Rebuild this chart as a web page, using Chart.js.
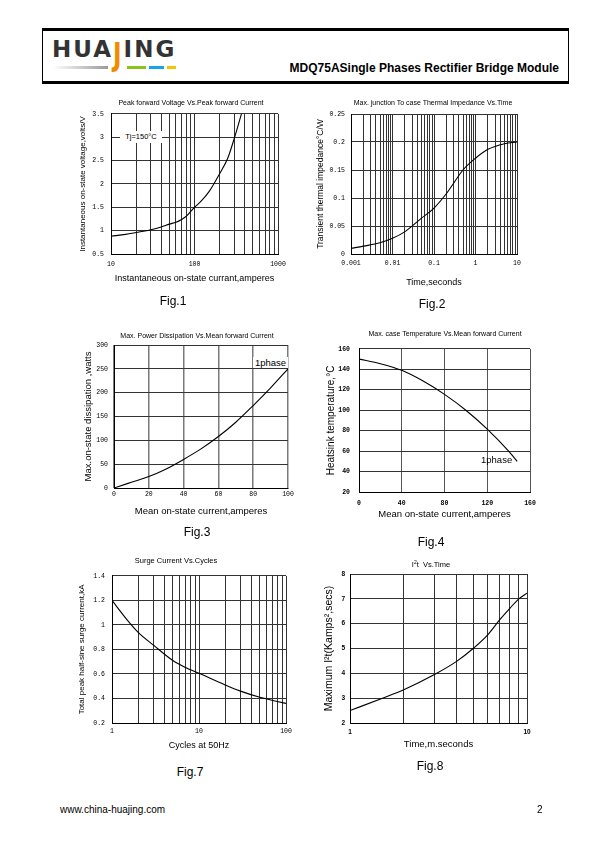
<!DOCTYPE html>
<html>
<head>
<meta charset="utf-8">
<script src="https://cdn.jsdelivr.net/npm/chart.js@4.4.0/dist/chart.umd.min.js"></script>
<style>
  html, body { margin: 0; padding: 0; background: #fff; }
  body { width: 595px; height: 842px; position: relative; overflow: hidden;
         font-family: "Liberation Sans", Arial, sans-serif; color: #000; }
  canvas { position: absolute; }
  .t { position: absolute; white-space: nowrap; transform: translate(-50%, -50%); line-height: 1; }
  .ttl { font-size: 7px; }
  .fig { font-size: 12px; }
  #hdr { position: absolute; left: 42px; top: 28px; width: 527px; height: 56px; box-sizing: border-box;
         border-top: 3px solid #000; border-bottom: 3px solid #000; border-left: 1px solid #000; border-right: 1px solid #000; }
  #logo { position: absolute; left: 52px; top: 38px; font-family: "DejaVu Sans", sans-serif; font-weight: bold;
          font-size: 23px; line-height: 23px; color: #333; letter-spacing: 2px; }
  #logo .j { color: #f08c00; display: inline-block; transform: scaleY(1.4); transform-origin: top; }
  .bar { position: absolute; top: 66px; height: 3px; }
  #model { position: absolute; right: 36px; top: 61px; font-size: 12px; font-weight: bold; line-height: 14px; }
  .note { position: absolute; background: #fff; white-space: nowrap; line-height: 1; }
</style>
</head>
<body>
<div id="hdr"></div>
<div id="logo">HUA<span class="j">J</span>ING</div>
<div class="bar" style="left:53px;width:55px;background:linear-gradient(to right,#fff,#9a9a9a);"></div>
<div class="bar" style="left:127px;width:19px;background:#8cc21f;"></div>
<div class="bar" style="left:149px;width:15px;background:#1aa3e8;"></div>
<div class="bar" style="left:167px;width:9px;background:#f7c400;"></div>
<div id="model">MDQ75ASingle Phases Rectifier Bridge Module</div>

<canvas id="c1"></canvas>
<canvas id="c2"></canvas>
<canvas id="c3"></canvas>
<canvas id="c4"></canvas>
<canvas id="c7"></canvas>
<canvas id="c8"></canvas>

<div class="t ttl" style="left:191px;top:102px;">Peak forward Voltage Vs.Peak forward Current</div>
<div class="t ttl" style="left:433px;top:102px;">Max. junction To case Thermal Impedance Vs.Time</div>
<div class="t ttl" style="left:197px;top:335px;">Max. Power Dissipation Vs.Mean forward Current</div>
<div class="t ttl" style="left:445px;top:333px;">Max. case Temperature Vs.Mean forward Current</div>
<div class="t ttl" style="left:176px;top:561px;font-size:7.5px;">Surge Current Vs.Cycles</div>
<div class="t ttl" style="left:431px;top:564px;font-size:7.5px;">I<sup style="font-size:5px">2</sup>t&nbsp;&nbsp;Vs.Time</div>

<div class="note" style="left:120px;top:131px;width:42px;height:12px;font-size:7.5px;line-height:12px;text-align:center;">Tj=150°C</div>
<div class="note" style="left:253px;top:357px;width:35px;height:11px;font-size:9.5px;line-height:11px;text-align:center;">1phase</div>
<div class="note" style="left:481px;top:455px;font-size:9.5px;background:transparent;">1phase</div>

<div class="t fig" style="left:173px;top:301px;">Fig.1</div>
<div class="t fig" style="left:432px;top:304px;">Fig.2</div>
<div class="t fig" style="left:197px;top:532px;">Fig.3</div>
<div class="t fig" style="left:431px;top:542px;">Fig.4</div>
<div class="t fig" style="left:190px;top:772px;">Fig.7</div>
<div class="t fig" style="left:430px;top:766px;">Fig.8</div>

<div style="position:absolute;left:60px;top:804px;font-size:10px;line-height:12px;">www.china-huajing.com</div>
<div style="position:absolute;left:537px;top:804px;font-size:10px;line-height:12px;">2</div>

<script>
// Fig.1 peak forward voltage vs current
const fig1Current = [10, 15, 20, 30, 40, 50, 60, 70, 80, 100, 120, 150, 200, 250, 300, 365];
const fig1Voltage = [0.88, 0.92, 0.96, 1.02, 1.08, 1.14, 1.18, 1.24, 1.31, 1.5, 1.63, 1.84, 2.22, 2.55, 2.98, 3.5];
const fig1XLabels = ['10', '100', '1000'];

// Fig.2 transient thermal impedance vs time
const fig2Time = [0.001, 0.002, 0.005, 0.01, 0.02, 0.05, 0.1, 0.2, 0.5, 1, 2, 5, 10];
const fig2Z = [0.01, 0.014, 0.02, 0.028, 0.04, 0.064, 0.082, 0.108, 0.15, 0.171, 0.187, 0.197, 0.2];
const fig2XLabels = ['0.001', '0.01', '0.1', '1', '10'];

// Fig.3 power dissipation vs mean current
const fig3Current = [0, 10, 20, 30, 40, 50, 60, 70, 80, 90, 100];
const fig3Power = [0, 12, 24, 40, 60, 82, 108, 138, 173, 210, 250];

// Fig.4 case temperature vs mean current
const fig4Current = [0, 20, 40, 60, 80, 100, 120, 140, 148];
const fig4Temp = [150, 145.5, 139, 128.5, 115.5, 100, 81.5, 60, 50];

// Fig.7 surge current vs cycles
const fig7Cycles = [1, 1.5, 2, 3, 5, 7, 10, 20, 30, 50, 100];
const fig7Surge = [1.2, 1.04, 0.94, 0.835, 0.71, 0.653, 0.605, 0.51, 0.46, 0.41, 0.36];
const fig7XLabels = ['1', '10', '100'];

// Fig.8 I2t vs time
const fig8Time = [1, 1.5, 2, 3, 4, 5, 6, 7, 8, 9, 10];
const fig8I2t = [2.5, 2.98, 3.33, 3.95, 4.48, 5.02, 5.55, 6.15, 6.62, 7.0, 7.23];
const fig8XLabels = ['1', '10'];

const SANS = '"Liberation Sans", Arial, sans-serif';
const MONO = '"Liberation Mono", "DejaVu Sans Mono", monospace';

// grid values 1..9 x 10^n between lo and hi
function logGrid(lo, hi) {
  const out = [];
  for (let e = Math.round(Math.log10(lo)); e < Math.round(Math.log10(hi)); e++)
    for (let m = 1; m < 10; m++) out.push(+(m * Math.pow(10, e)).toPrecision(3));
  out.push(hi);
  return out;
}

function decadeLabel(labels) {
  return v => {
    const hit = labels.find(s => Math.abs(parseFloat(s) - v) / v < 1e-6);
    return hit === undefined ? '' : hit;
  };
}

// plain numbers: 1 not 1.0, 0.2 not 0.20
const plainNum = v => String(+v.toFixed(4));

function plot(id, box, c) {
  const L = 48, T = 10, R = 16, B = 42;
  const cv = document.getElementById(id);
  const w = box.r - box.l + L + R, h = box.b - box.t + T + B;
  cv.width = w; cv.height = h;
  cv.style.left = (box.l - L) + 'px';
  cv.style.top = (box.t - T) + 'px';
  const ylh = c.yTitleSize * 1.2, xlh = c.xTitleSize * 1.2;

  const x = {
    type: c.xType, min: c.xMin, max: c.xMax,
    grid: { color: c.gridX || '#333', lineWidth: c.gridXW || 1, drawTicks: false },
    border: { color: '#000', width: 1 },
    ticks: { font: c.tickFont, color: '#000', padding: c.xTickPad, autoSkip: false, maxRotation: 0 },
    title: { display: true, text: c.xTitle, color: '#000', font: { family: SANS, size: c.xTitleSize },
             padding: { top: 0, bottom: box.b + B - xlh / 2 - c.xTitleY } },
    afterFit: s => { s.height = B; }
  };
  if (c.xType === 'logarithmic') {
    const g = logGrid(c.xMin, c.xMax);
    x.afterBuildTicks = s => { s.ticks = g.map(v => ({ value: v })); };
    x.ticks.callback = decadeLabel(c.xLabels);
  } else {
    x.ticks.stepSize = c.xStep;
    x.ticks.callback = plainNum;
  }

  const y = {
    type: 'linear', min: c.yMin, max: c.yMax,
    grid: { color: c.gridY || '#333', lineWidth: 1, drawTicks: false },
    border: { color: '#000', width: 1 },
    ticks: { font: c.tickFont, color: '#000', padding: c.yTickPad, stepSize: c.yStep, callback: plainNum },
    title: { display: true, text: c.yTitle, color: '#000', font: { family: SANS, size: c.yTitleSize },
             padding: { top: c.yTitleX - box.l + L - ylh / 2, bottom: 0 } },
    afterFit: s => { s.width = L; }
  };

  return new Chart(cv, {
    type: 'scatter',
    data: {
      datasets: [{
        data: c.xs.map((v, i) => ({ x: v, y: c.ys[i] })),
        showLine: true, borderColor: '#000', borderWidth: 1.1,
        pointRadius: 0, cubicInterpolationMode: 'monotone'
      }]
    },
    options: {
      responsive: false, animation: false, devicePixelRatio: 1,
      layout: { padding: { top: T, right: R, left: 0, bottom: 0 } },
      plugins: { legend: { display: false }, tooltip: { enabled: false } },
      scales: { x, y }
    }
  });
}

const serifTicks = { family: MONO, size: 6.5 };

plot('c1', { l: 111, t: 113, r: 278, b: 254 }, {
  xs: fig1Current, ys: fig1Voltage,
  xType: 'logarithmic', xMin: 10, xMax: 1000, xLabels: fig1XLabels,
  yMin: 0.5, yMax: 3.5, yStep: 0.5,
  xTitle: 'Instantaneous on-state currant,amperes', xTitleSize: 9, xTitleY: 279,
  yTitle: 'Instantaneous on-state voltage,volts/V', yTitleSize: 8, yTitleX: 83,
  tickFont: serifTicks, xTickPad: 6, yTickPad: 7
});

plot('c2', { l: 351, t: 114, r: 517, b: 254 }, {
  xs: fig2Time, ys: fig2Z,
  xType: 'logarithmic', xMin: 0.001, xMax: 10, xLabels: fig2XLabels,
  yMin: 0, yMax: 0.25, yStep: 0.05,
  xTitle: 'Time,seconds', xTitleSize: 9, xTitleY: 283,
  yTitle: 'Transient thermal impedance°C/W', yTitleSize: 8.5, yTitleX: 321,
  tickFont: serifTicks, xTickPad: 5, yTickPad: 6
});

plot('c3', { l: 114, t: 345, r: 288, b: 488 }, {
  xs: fig3Current, ys: fig3Power,
  xType: 'linear', xMin: 0, xMax: 100, xStep: 20,
  yMin: 0, yMax: 300, yStep: 50,
  xTitle: 'Mean on-state current,amperes', xTitleSize: 9.5, xTitleY: 511,
  yTitle: 'Max.on-state dissipation ,watts', yTitleSize: 9.5, yTitleX: 88,
  tickFont: serifTicks, xTickPad: 2, yTickPad: 6, gridX: '#7a7a7a', gridXW: 1.5
});

plot('c4', { l: 359, t: 346, r: 530, b: 492 }, {
  xs: fig4Current, ys: fig4Temp,
  xType: 'linear', xMin: 0, xMax: 160, xStep: 40,
  yMin: 20, yMax: 160, yStep: 20,
  xTitle: 'Mean on-state current,amperes', xTitleSize: 9.5, xTitleY: 514,
  yTitle: 'Heatsink temperature,°C', yTitleSize: 10, yTitleX: 331,
  tickFont: { family: MONO, size: 6.5, weight: 'bold' }, xTickPad: 7, yTickPad: 9, gridX: '#555'
});

plot('c7', { l: 112, t: 575, r: 286, b: 723 }, {
  xs: fig7Cycles, ys: fig7Surge,
  xType: 'logarithmic', xMin: 1, xMax: 100, xLabels: fig7XLabels,
  yMin: 0.2, yMax: 1.4, yStep: 0.2,
  xTitle: 'Cycles at 50Hz', xTitleSize: 9, xTitleY: 746,
  yTitle: 'Total peak half-sine surge current,kA', yTitleSize: 8, yTitleX: 82,
  tickFont: serifTicks, xTickPad: 4.5, yTickPad: 7
});

plot('c8', { l: 350, t: 574, r: 527, b: 723 }, {
  xs: fig8Time, ys: fig8I2t,
  xType: 'logarithmic', xMin: 1, xMax: 10, xLabels: fig8XLabels,
  yMin: 2, yMax: 8, yStep: 1,
  xTitle: 'Time,m.seconds', xTitleSize: 9.5, xTitleY: 744,
  yTitle: 'Maximum I²t(Kamps²,secs)', yTitleSize: 10.5, yTitleX: 329,
  tickFont: { family: SANS, size: 6.5, weight: 'bold' }, xTickPad: 5, yTickPad: 5
});
</script>
</body>
</html>
